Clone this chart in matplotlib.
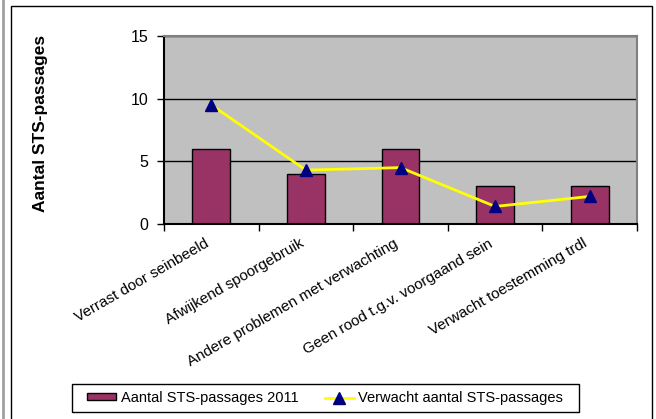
import matplotlib.pyplot as plt
from matplotlib.patches import Rectangle
from matplotlib.lines import Line2D

plt.rcParams['font.family'] = ['Liberation Sans', 'DejaVu Sans']

categories = ['Verrast door seinbeeld', 'Afwijkend spoorgebruik',
              'Andere problemen met verwachting', 'Geen rood t.g.v. voorgaand sein',
              'Verwacht toestemming trdl']
passages_2011 = [6, 4, 6, 3, 3]
verwacht = [9.5, 4.3, 4.5, 1.4, 2.2]
yticks = [0, 5, 10, 15]

fig = plt.figure(figsize=(6.56, 4.19), dpi=100)
ax = fig.add_axes([164 / 656, 1 - 224 / 419, 473 / 656, 188 / 419])

x = range(len(categories))
ax.set_facecolor('#C0C0C0')
ax.set_axisbelow(True)
ax.yaxis.grid(True, color='black', lw=1)
ax.bar(x, passages_2011, width=0.4, color='#993366', edgecolor='black', lw=1,
       label='Aantal STS-passages 2011', zorder=2)
ax.plot(x, verwacht, color='#FFFF00', lw=2, marker='^', markersize=8,
        markerfacecolor='#000080', markeredgecolor='#000080',
        label='Verwacht aantal STS-passages', zorder=3)

ax.set_xlim(-0.5, len(categories) - 0.5)
ax.set_ylim(0, 15)
ax.set_yticks(yticks)
ax.tick_params(axis='y', labelsize=11.5, length=5, width=1, direction='out', pad=6)
ax.set_xticks(list(x))
ax.set_xticklabels(categories, rotation=30, ha='right', fontsize=11)
ax.tick_params(axis='x', length=0, pad=9)
ax.set_xticks([i - 0.5 for i in range(len(categories) + 1)], minor=True)
ax.tick_params(axis='x', which='minor', length=5, width=1, direction='out')

for s in ['top', 'right']:
    ax.spines[s].set_color('#808080')
    ax.spines[s].set_linewidth(1.5)
ax.spines['left'].set_linewidth(1.5)
ax.spines['bottom'].set_linewidth(1.5)

fig.text(41 / 656, 1 - 123 / 419, 'Aantal STS-passages', rotation=90, fontsize=12.5,
         fontweight='bold', ha='center', va='center')

handles = [Rectangle((0, 0), 1, 1, facecolor='#993366', edgecolor='black', lw=1),
           Line2D([], [], color='#FFFF00', lw=2, marker='^', markersize=8,
                  markerfacecolor='#000080', markeredgecolor='#000080')]
leg = fig.legend(handles, ['Aantal STS-passages 2011', 'Verwacht aantal STS-passages'],
                 loc='center', bbox_to_anchor=(325 / 656, 1 - 398 / 419), ncol=2,
                 fontsize=10.5, frameon=False, handlelength=2.0, handleheight=0.4,
                 handletextpad=0.3, columnspacing=1.8)
fig.add_artist(Rectangle((72 / 656, 1 - 412 / 419), 507 / 656, 28 / 419,
                         transform=fig.transFigure, fill=False, edgecolor='black', lw=1))

# outer chart frame
fig.add_artist(Rectangle((11 / 656, -0.05), 641 / 656, 1.05 - 6 / 419,
                         transform=fig.transFigure, fill=False, edgecolor='black', lw=1))
fig.add_artist(Line2D([2.5 / 656, 2.5 / 656], [0, 1], transform=fig.transFigure,
                      color='#A0A0A0', lw=2))

fig.savefig('out.png', dpi=100)
